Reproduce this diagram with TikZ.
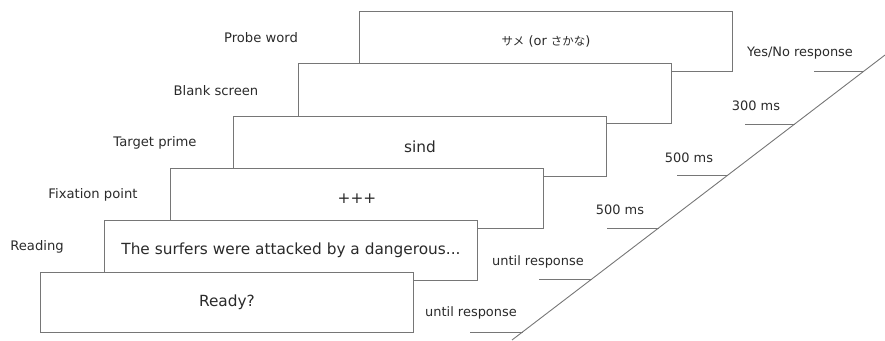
\documentclass[tikz,border=0pt]{standalone}
\usepackage{fontspec}
\setmainfont{DejaVu Sans}
\newfontfamily\jpfont{Noto Sans CJK JP}
\definecolor{ink}{HTML}{2A2A2A}
\definecolor{rule}{HTML}{767676}
\newcommand{\smallfs}{\fontsize{13}{15}\selectfont}
\newcommand{\kana}[1]{{\jpfont\fontsize{11.5}{15}\selectfont #1}}
\begin{document}
\begin{tikzpicture}[x=1bp,y=-1bp,
  screen/.style={draw=rule,line width=0.9bp,fill=white,rectangle,anchor=north west,
    minimum width=373bp,minimum height=60bp,inner sep=0pt,text=ink,
    font=\fontsize{15.4}{18}\selectfont},
  stagelabel/.style={text=ink,inner sep=0pt,font=\fontsize{13.2}{15}\selectfont},
  timelabel/.style={text=ink,inner sep=0pt,font=\smallfs},
  tick/.style={draw=rule,line width=0.9bp}]
\useasboundingbox (0,0) rectangle (885,340);

% stacked screens, back to front
\node[screen] (probe) at (359,11) {\smallfs\kana{サメ} (or \kana{さかな})};
\node[screen] (blank) at (298,63) {};
\node[screen] (prime) at (233,116) {sind};
\node[screen] (fix) at (170,168) {+++};
\node[screen] (read) at (104,220) {The surfers were attacked by a dangerous...};
\node[screen] (ready) at (40,272) {Ready?};

% stage names
\node[stagelabel] (lprobe) at (261,38) {Probe word};
\node[stagelabel] (lblank) at (216,91) {Blank screen};
\node[stagelabel] (lprime) at (155,143) {Target prime};
\node[stagelabel] (lfix) at (93,195) {Fixation point};
\node[stagelabel] (lread) at (37,247) {Reading};

% time axis
\coordinate (axA) at (512,340);
\coordinate (axB) at (885,55);
\draw[tick] (axA) -- (axB);

\coordinate (e1) at (864,71);   \coordinate (s1) at (814,71);
\coordinate (e2) at (794.7,124);\coordinate (s2) at (745,124);
\coordinate (e3) at (728,175);  \coordinate (s3) at (677,175);
\coordinate (e4) at (658.6,228);\coordinate (s4) at (607,228);
\coordinate (e5) at (591.8,279);\coordinate (s5) at (539,279);
\coordinate (e6) at (522.5,332);\coordinate (s6) at (470,332);
\foreach \i in {1,...,6}{\draw[tick] (s\i) -- (e\i);}

% durations
\node[timelabel] (t1) at (800,53) {Yes/No response};
\node[timelabel] (t2) at (756,106) {300 ms};
\node[timelabel] (t3) at (689,158) {500 ms};
\node[timelabel] (t4) at (620,210) {500 ms};
\node[timelabel] (t5) at (538,262) {until response};
\node[timelabel] (t6) at (471,313) {until response};
\end{tikzpicture}
\end{document}
